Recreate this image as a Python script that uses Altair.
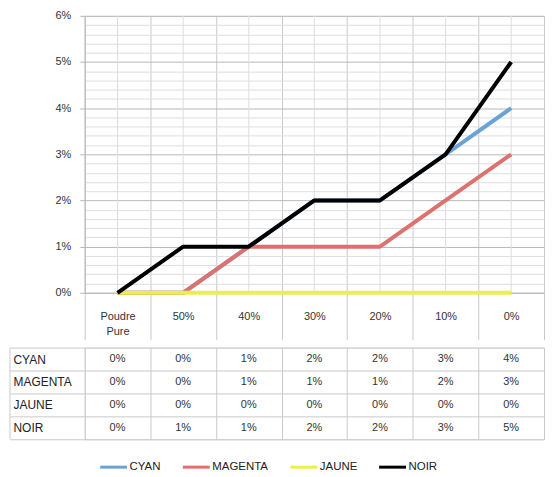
import altair as alt
import pandas as pd

categories = ["Poudre Pure", "50%", "40%", "30%", "20%", "10%", "0%"]
series_names = ["CYAN", "MAGENTA", "JAUNE", "NOIR"]
cyan = [0, 0, 1, 2, 2, 3, 4]
magenta = [0, 0, 1, 1, 1, 2, 3]
jaune = [0, 0, 0, 0, 0, 0, 0]
noir = [0, 1, 1, 2, 2, 3, 5]
colors = ["#6aa3d5", "#dc7270", "#eded50", "#000000"]

rows = []
for name, vals in zip(series_names, [cyan, magenta, jaune, noir]):
    for c, v in zip(categories, vals):
        rows.append({"Category": c, "Series": name, "Value": v / 100, "Label": f"{v}%"})
df = pd.DataFrame(rows)
cat_df = pd.DataFrame({"Category": categories})
one_df = pd.DataFrame({"k": [0]})

W = 461
H = 278
HEADER = 47
ROW_H = 23
LABEL_COL = 75
GRID = "#c9c9c9"
MINOR = "#dedede"

x_band = alt.Scale(type="band", domain=categories, paddingInner=0, paddingOuter=0)
grid_vals = [round(i * 0.002, 3) for i in range(31)]
major_test = "abs(datum.value * 100 - round(datum.value * 100)) < 0.01"

y_axis = alt.Axis(
    values=grid_vals,
    format=".0%",
    labelExpr=f"({major_test}) ? datum.label : ''",
    grid=True,
    gridColor={"condition": {"test": major_test, "value": "#b9b9b9"}, "value": MINOR},
    tickColor="#b9b9b9",
    tickOpacity={"condition": {"test": major_test, "value": 1}, "value": 0},
    tickSize=5,
    labelPadding=9,
    domainColor="#b9b9b9",
    title=None,
)
x_axis_top = alt.Axis(
    orient="bottom",
    tickBand="extent",
    tickSize=HEADER,
    tickColor=GRID,
    grid=True,
    gridColor=GRID,
    labelAngle=0,
    labelExpr="split(datum.label, ' ')",
    labelBaseline="middle",
    labelPadding=-23,
    labelLineHeight=15,
    domainColor="#b9b9b9",
    title=None,
)

center_rules = alt.Chart(cat_df).mark_rule(color=MINOR, strokeWidth=1).encode(
    x=alt.X("Category:N", scale=x_band, bandPosition=0.5, axis=x_axis_top, sort=categories),
    y=alt.value(0),
    y2=alt.value(H),
)

layers = [center_rules]
for s in series_names:
    layers.append(
        alt.Chart(df)
        .transform_filter(alt.datum.Series == s)
        .mark_line(strokeWidth=4, strokeJoin="round")
        .encode(
            x=alt.X("Category:N", scale=x_band, bandPosition=0.5, sort=categories),
            y=alt.Y("Value:Q", scale=alt.Scale(domain=[0, 0.06], nice=False), axis=y_axis),
            color=alt.Color(
                "Series:N",
                scale=alt.Scale(domain=series_names, range=colors),
                legend=alt.Legend(
                    orient="none",
                    legendX=14,
                    legendY=438,
                    direction="horizontal",
                    title=None,
                    symbolType="stroke",
                    symbolSize=729,
                    symbolStrokeWidth=3,
                    labelFontSize=11.5,
                    labelColor="#222",
                    columnPadding=15,
                    labelOffset=1,
                    padding=0,
                ),
            ),
        )
    )

top = alt.layer(*layers).properties(width=W, height=H)

x_axis_table = alt.Axis(
    orient="top", tickBand="extent", labels=False, ticks=False, domain=False,
    grid=True, gridColor=GRID, title=None,
)
y_axis_table = alt.Axis(
    orient="left", tickBand="extent", tickSize=LABEL_COL, tickColor=GRID,
    grid=True, gridColor=GRID, labelAlign="left", labelPadding=-3,
    labelFontSize=12, labelColor="#222", domain=False, title=None,
)

table_text = alt.Chart(df).mark_text(fontSize=11, color="#333").encode(
    x=alt.X("Category:N", scale=x_band, axis=x_axis_table, sort=categories),
    y=alt.Y("Series:N", scale=alt.Scale(type="band", domain=series_names, paddingInner=0, paddingOuter=0),
            axis=y_axis_table, sort=series_names),
    text="Label:N",
)
left_border = alt.Chart(one_df).mark_rule(color=GRID).encode(
    x=alt.value(-LABEL_COL), y=alt.value(0), y2=alt.value(4 * ROW_H)
)
table = alt.layer(table_text, left_border).properties(width=W, height=4 * ROW_H)

chart = (
    alt.vconcat(top, table, spacing=0)
    .resolve_scale(x="independent", y="independent")
    .properties(padding={"left": 1, "top": 0, "right": 0, "bottom": 0})
    .configure_view(stroke=None)
    .configure(font="Liberation Sans")
    .configure_axis(labelFontSize=11, labelColor="#333", labelFont="Liberation Sans")
)

chart.save("out.html", embed_options={"renderer": "svg", "actions": False})
